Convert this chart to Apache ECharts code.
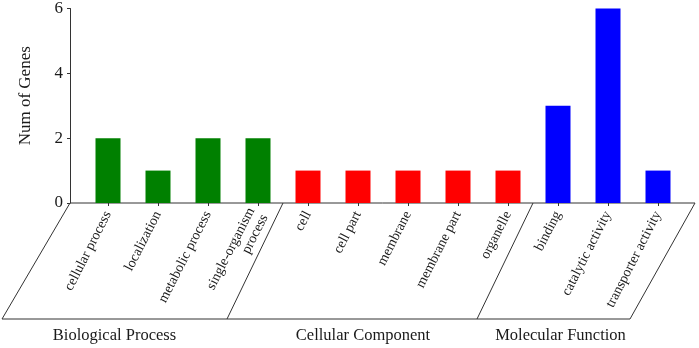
<!DOCTYPE html>
<html>
<head>
<meta charset="utf-8">
<script src="https://cdn.jsdelivr.net/npm/echarts@6/dist/echarts.min.js"></script>
<style>
  html, body { margin: 0; padding: 0; background: #fff; }
  #main { width: 699px; height: 348px; }
</style>
</head>
<body>
<div id="main"></div>
<script>
// GO terms, their gene counts and the category each one belongs to
var terms = ['cellular process', 'localization', 'metabolic process', 'single-organism\nprocess',
             'cell', 'cell part', 'membrane', 'membrane part', 'organelle',
             'binding', 'catalytic activity', 'transporter activity'];
var geneCounts = [2, 1, 2, 2, 1, 1, 1, 1, 1, 3, 6, 1];
var termGroup = [0, 0, 0, 0, 1, 1, 1, 1, 1, 2, 2, 2];
var groupNames = ['Biological Process', 'Cellular Component', 'Molecular Function'];
var groupColors = ['#008000', '#ff0000', '#0000ff'];
var yTicks = [0, 2, 4, 6];

var FONT = '"Liberation Serif", "Times New Roman", serif';
var TEXT = '#1a1a1a';

var chart = echarts.init(document.getElementById('main'));

var option = {
    backgroundColor: '#fff',
    animation: false,
    grid: {
        left: 83,
        right: 16,
        top: 5,
        bottom: 145
    },
    xAxis: {
        type: 'category',
        data: terms,
        axisLine: { show: false },
        axisTick: { show: true, alignWithLabel: true, length: 3, lineStyle: { color: '#333' } },
        axisLabel: {
            interval: 0,
            rotate: 63,
            margin: 9,
            fontFamily: FONT,
            fontSize: 14,
            color: TEXT,
            lineHeight: 15
        }
    },
    yAxis: {
        type: 'value',
        min: yTicks[0],
        max: yTicks[yTicks.length - 1],
        interval: 2,
        offset: 13,
        name: 'Num of Genes',
        nameLocation: 'middle',
        nameGap: 36,
        nameTextStyle: { fontFamily: FONT, fontSize: 17, color: TEXT, padding: [0, 0, 0, 20] },
        splitLine: { show: false },
        axisLine: { show: true, lineStyle: { color: '#333' } },
        axisTick: { show: true, length: 3, lineStyle: { color: '#333' } },
        axisLabel: { fontFamily: FONT, fontSize: 17, color: TEXT, margin: 7 }
    },
    series: [{
        type: 'bar',
        barWidth: '50%',
        data: geneCounts.map(function (v, i) {
            return { value: v, itemStyle: { color: groupColors[termGroup[i]] } };
        })
    }]
};
chart.setOption(option);

// frame below the axis: slanted parallelogram split per GO category
function drawFrame() {
    var axisY = chart.convertToPixel({ yAxisIndex: 0 }, 0);
    var x0 = chart.convertToPixel({ xAxisIndex: 0 }, 0);
    var x1 = chart.convertToPixel({ xAxisIndex: 0 }, 1);
    var step = x1 - x0;
    var left = x0 - step / 2 - 13;
    var right = x0 + step * (terms.length - 0.5) + 12;
    var bottomY = 319;
    var lineStyle = { stroke: '#333', lineWidth: 1 };
    var els = [];

    // axis line, bottom edge, outer slants
    els.push({ type: 'line', shape: { x1: left, y1: axisY, x2: right, y2: axisY }, style: lineStyle });
    var leftBottom = left - 68;
    var rightBottom = right - 65;
    els.push({ type: 'line', shape: { x1: left, y1: axisY, x2: leftBottom, y2: bottomY }, style: lineStyle });
    els.push({ type: 'line', shape: { x1: right, y1: axisY, x2: rightBottom, y2: bottomY }, style: lineStyle });
    els.push({ type: 'line', shape: { x1: leftBottom, y1: bottomY, x2: rightBottom, y2: bottomY }, style: lineStyle });

    // dividers between groups and group labels
    var bottoms = [leftBottom];
    for (var i = 1; i < terms.length; i++) {
        if (termGroup[i] !== termGroup[i - 1]) {
            var xt = x0 + step * (i - 0.5);
            bottoms.push(xt - 56);
            els.push({ type: 'line', shape: { x1: xt, y1: axisY, x2: xt - 56, y2: bottomY }, style: lineStyle });
        }
    }
    bottoms.push(rightBottom);
    var labelShift = [0, 11, 7];
    for (var g = 0; g < groupNames.length; g++) {
        var cx = (bottoms[g] + bottoms[g + 1]) / 2 + labelShift[g];
        els.push({
            type: 'text',
            x: cx,
            y: 336,
            style: {
                text: groupNames[g],
                fontFamily: FONT,
                fontSize: 16.5,
                fill: TEXT,
                align: 'center',
                verticalAlign: 'middle'
            }
        });
    }
    chart.setOption({ graphic: els });
}
drawFrame();
</script>
</body>
</html>
